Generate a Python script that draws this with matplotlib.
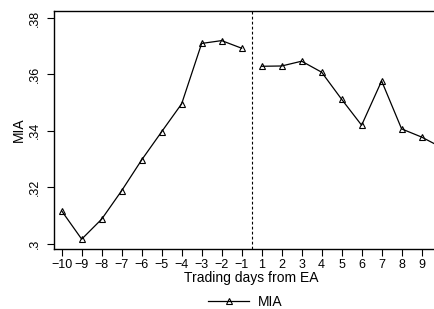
import matplotlib
matplotlib.use("Agg")
import matplotlib.pyplot as plt

days = [-10, -9, -8, -7, -6, -5, -4, -3, -2, -1, 1, 2, 3, 4, 5, 6, 7, 8, 9, 10]
mia = [0.3116, 0.3016, 0.3087, 0.3188, 0.3297, 0.3397, 0.3496, 0.3710, 0.3720, 0.3693,
       0.3629, 0.3630, 0.3647, 0.3608, 0.3512, 0.3420, 0.3577, 0.3407, 0.3378, 0.3341]
yticks = [0.30, 0.32, 0.34, 0.36, 0.38]
ytick_labels = [".3", ".32", ".34", ".36", ".38"]

plt.rcParams['font.family'] = ['Liberation Sans', 'DejaVu Sans']

W, H = 435, 309
fig = plt.figure(figsize=(W / 100, H / 100), dpi=100)
left, right, top, bottom = 54.3, 449.0, 11.0, 249.3
ax = fig.add_axes([left / W, 1 - bottom / H, (right - left) / W, (bottom - top) / H])

pos = list(range(len(days)))
pre = [i for i, d in enumerate(days) if d < 0]
post = [i for i, d in enumerate(days) if d > 0]
ax.plot(pre, [mia[i] for i in pre], color='black', lw=0.9, marker='^', ms=4.5,
        mfc='none', mec='black', mew=0.8, label='MIA')
ax.plot(post, [mia[i] for i in post], color='black', lw=0.9, marker='^', ms=4.5,
        mfc='none', mec='black', mew=0.8)
ax.axvline(len(pre) - 0.5, color='black', lw=0.8, ls=(0, (2.5, 2)))

ax.set_xlim(-0.37, 19.37)
ax.set_ylim(0.298, 0.3825)
ax.set_xticks(pos)
ax.set_xticklabels([str(d).replace('-', '\u2212') for d in days], fontsize=9)
ax.set_yticks(yticks)
ax.set_yticklabels(ytick_labels, fontsize=9, rotation=90, va='center')
ax.tick_params(axis='both', length=5, width=0.8, color='black')
ax.tick_params(axis='x', pad=2)
ax.tick_params(axis='y', pad=5)
for s in ax.spines.values():
    s.set_linewidth(1.0)
ax.set_xlabel('Trading days from EA', fontsize=10, labelpad=0)
ax.set_ylabel('MIA', fontsize=10, labelpad=2)

leg = fig.legend(loc='center', bbox_to_anchor=(245 / W, 1 - 301.5 / H), frameon=False,
                 fontsize=10, handlelength=3.0, handletextpad=0.6)

fig.savefig('out.png', dpi=100)
